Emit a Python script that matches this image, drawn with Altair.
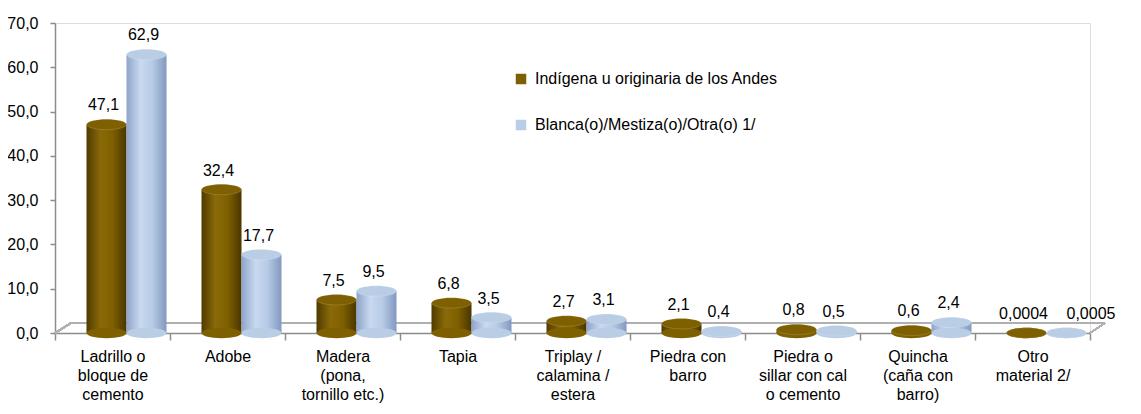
import altair as alt
import pandas as pd

categorias = [
    "Ladrillo o|bloque de|cemento",
    "Adobe",
    "Madera|(pona,|tornillo etc.)",
    "Tapia",
    "Triplay /|calamina /|estera",
    "Piedra con|barro",
    "Piedra o|sillar con cal|o cemento",
    "Quincha|(caña con|barro)",
    "Otro|material 2/",
]
serie_a = "Indígena u originaria de los Andes"
serie_b = "Blanca(o)/Mestiza(o)/Otra(o) 1/"
valores_a = [47.1, 32.4, 7.5, 6.8, 2.7, 2.1, 0.8, 0.6, 0.0004]
valores_b = [62.9, 17.7, 9.5, 3.5, 3.1, 0.4, 0.5, 2.4, 0.0005]
etiquetas_a = ["47,1", "32,4", "7,5", "6,8", "2,7", "2,1", "0,8", "0,6", "0,0004"]
etiquetas_b = ["62,9", "17,7", "9,5", "3,5", "3,1", "0,4", "0,5", "2,4", "0,0005"]
y_ticks = [0, 10, 20, 30, 40, 50, 60, 70]

rows = []
for c, v, t in zip(categorias, valores_a, etiquetas_a):
    rows.append({"cat": c, "serie": serie_a, "valor": v, "etq": t})
for c, v, t in zip(categorias, valores_b, etiquetas_b):
    rows.append({"cat": c, "serie": serie_b, "valor": v, "etq": t})
df = pd.DataFrame(rows)

FONT = "Liberation Sans"
FS = 16
W, H = 1035, 310

xscale = alt.Scale(domain=categorias, paddingInner=0, paddingOuter=0)
offscale = alt.Scale(domain=[serie_a, serie_b], paddingInner=0, paddingOuter=0.4375, align=0.9)
yscale = alt.Scale(domain=[0, 70], nice=False)

x_enc = alt.X("cat:N", scale=xscale, sort=None, title=None,
              axis=alt.Axis(orient="bottom", ticks=True, tickBand="extent", tickColor="#8c8c8c",
                            tickSize=7, tickWidth=1.5, domain=True, domainColor="#8c8c8c",
                            domainWidth=1.5, labelAngle=0, labelExpr="split(datum.label, '|')",
                            labelFont=FONT, labelFontSize=FS, labelColor="#000000",
                            labelPadding=8, labelLineHeight=19, labelBaseline="top"))
y_enc = alt.Y("valor:Q", scale=yscale, title=None,
              axis=alt.Axis(values=y_ticks, labelExpr="replace(format(datum.value, '.1f'), '.', ',')",
                            labelFont=FONT, labelFontSize=FS, labelColor="#000000",
                            domainColor="#8c8c8c", domainWidth=1.5, tickColor="#8c8c8c",
                            tickSize=5, tickWidth=1.5, labelPadding=12, grid=False))
xo = alt.XOffset("serie:N", scale=offscale)

grad_a = alt.Gradient(gradient="linear", x1=0, x2=1, y1=0, y2=0, stops=[
    alt.GradientStop(color="#4f3a00", offset=0),
    alt.GradientStop(color="#8a6a08", offset=0.35),
    alt.GradientStop(color="#7f6000", offset=0.65),
    alt.GradientStop(color="#4a3600", offset=1),
])
grad_b = alt.Gradient(gradient="linear", x1=0, x2=1, y1=0, y2=0, stops=[
    alt.GradientStop(color="#8ea4c9", offset=0),
    alt.GradientStop(color="#c8d9f0", offset=0.35),
    alt.GradientStop(color="#b7cbe6", offset=0.65),
    alt.GradientStop(color="#8298bf", offset=1),
])

base = alt.Chart(df)

# floor of the 3D plot (drawn first so that it stays behind the bars)
floor_back = base.mark_rule(color="#b0b0b0", strokeWidth=1.5, yOffset=-10).encode(
    x=alt.value(16), x2=alt.value(W + 15), y=alt.datum(0))
floor_left = base.mark_rule(color="#b0b0b0", strokeWidth=1.5, y2Offset=-10).encode(
    x=alt.value(0), x2=alt.value(16), y=alt.datum(0), y2=alt.datum(0))
floor_right = base.mark_rule(color="#b0b0b0", strokeWidth=1.5, y2Offset=-10).encode(
    x=alt.value(W), x2=alt.value(W + 15), y=alt.datum(0), y2=alt.datum(0))

bars_a = base.transform_filter(alt.datum.serie == serie_a).mark_bar(fill=grad_a).encode(
    x=x_enc, xOffset=xo, y=y_enc)
bars_b = base.transform_filter(alt.datum.serie == serie_b).mark_bar(fill=grad_b).encode(
    x=x_enc, xOffset=xo, y=y_enc)

ellipse = "M-1,0 A1,0.26 0 1,0 1,0 A1,0.26 0 1,0 -1,0 Z"
color_enc = alt.Color("serie:N", scale=alt.Scale(domain=[serie_a, serie_b], range=["#7f6000", "#b9cde5"]),
                      legend=alt.Legend(title=None, orient="none", legendX=458, legendY=48,
                                        symbolType="square", symbolSize=110, symbolStrokeWidth=0,
                                        labelFont=FONT, labelFontSize=FS, labelColor="#000000",
                                        labelLimit=0, rowPadding=30, labelOffset=6))
bottoms = base.mark_point(shape=ellipse, size=1600, filled=True, opacity=1).encode(
    x=x_enc, xOffset=xo, y=alt.datum(0), color=color_enc)
tops = base.mark_point(shape=ellipse, size=1600, filled=True, opacity=1,
                       stroke="#ffffff", strokeOpacity=0.15, strokeWidth=1).encode(
    x=x_enc, xOffset=xo, y=y_enc, color=color_enc)

largo_b = (alt.datum.serie == serie_b) & (alt.expr.length(alt.datum.etq) > 4)
labels = base.transform_filter(~largo_b).mark_text(
    font=FONT, fontSize=FS, color="#000000", dy=-14, dx=-3, baseline="alphabetic").encode(
    x=x_enc, xOffset=xo, y=y_enc, text="etq:N")
labels_right = base.transform_filter(largo_b).mark_text(
    font=FONT, fontSize=FS, color="#000000", dy=-14, dx=0, align="left", baseline="alphabetic").encode(
    x=x_enc, xOffset=xo, y=y_enc, text="etq:N")

chart = alt.layer(bars_a, bars_b, bottoms, tops, labels, labels_right).properties(
    width=W, height=H)
chart = alt.layer(floor_back, floor_left, floor_right, bars_a, bars_b, bottoms, tops,
                  labels, labels_right).properties(
    width=W, height=H,
    autosize=alt.AutoSizeParams(type="none"),
    padding={"left": 47, "top": 15, "right": 40, "bottom": 70},
).configure_view(stroke=None).configure(font=FONT)

chart.save("out.html", embed_options={"renderer": "svg", "actions": False})
